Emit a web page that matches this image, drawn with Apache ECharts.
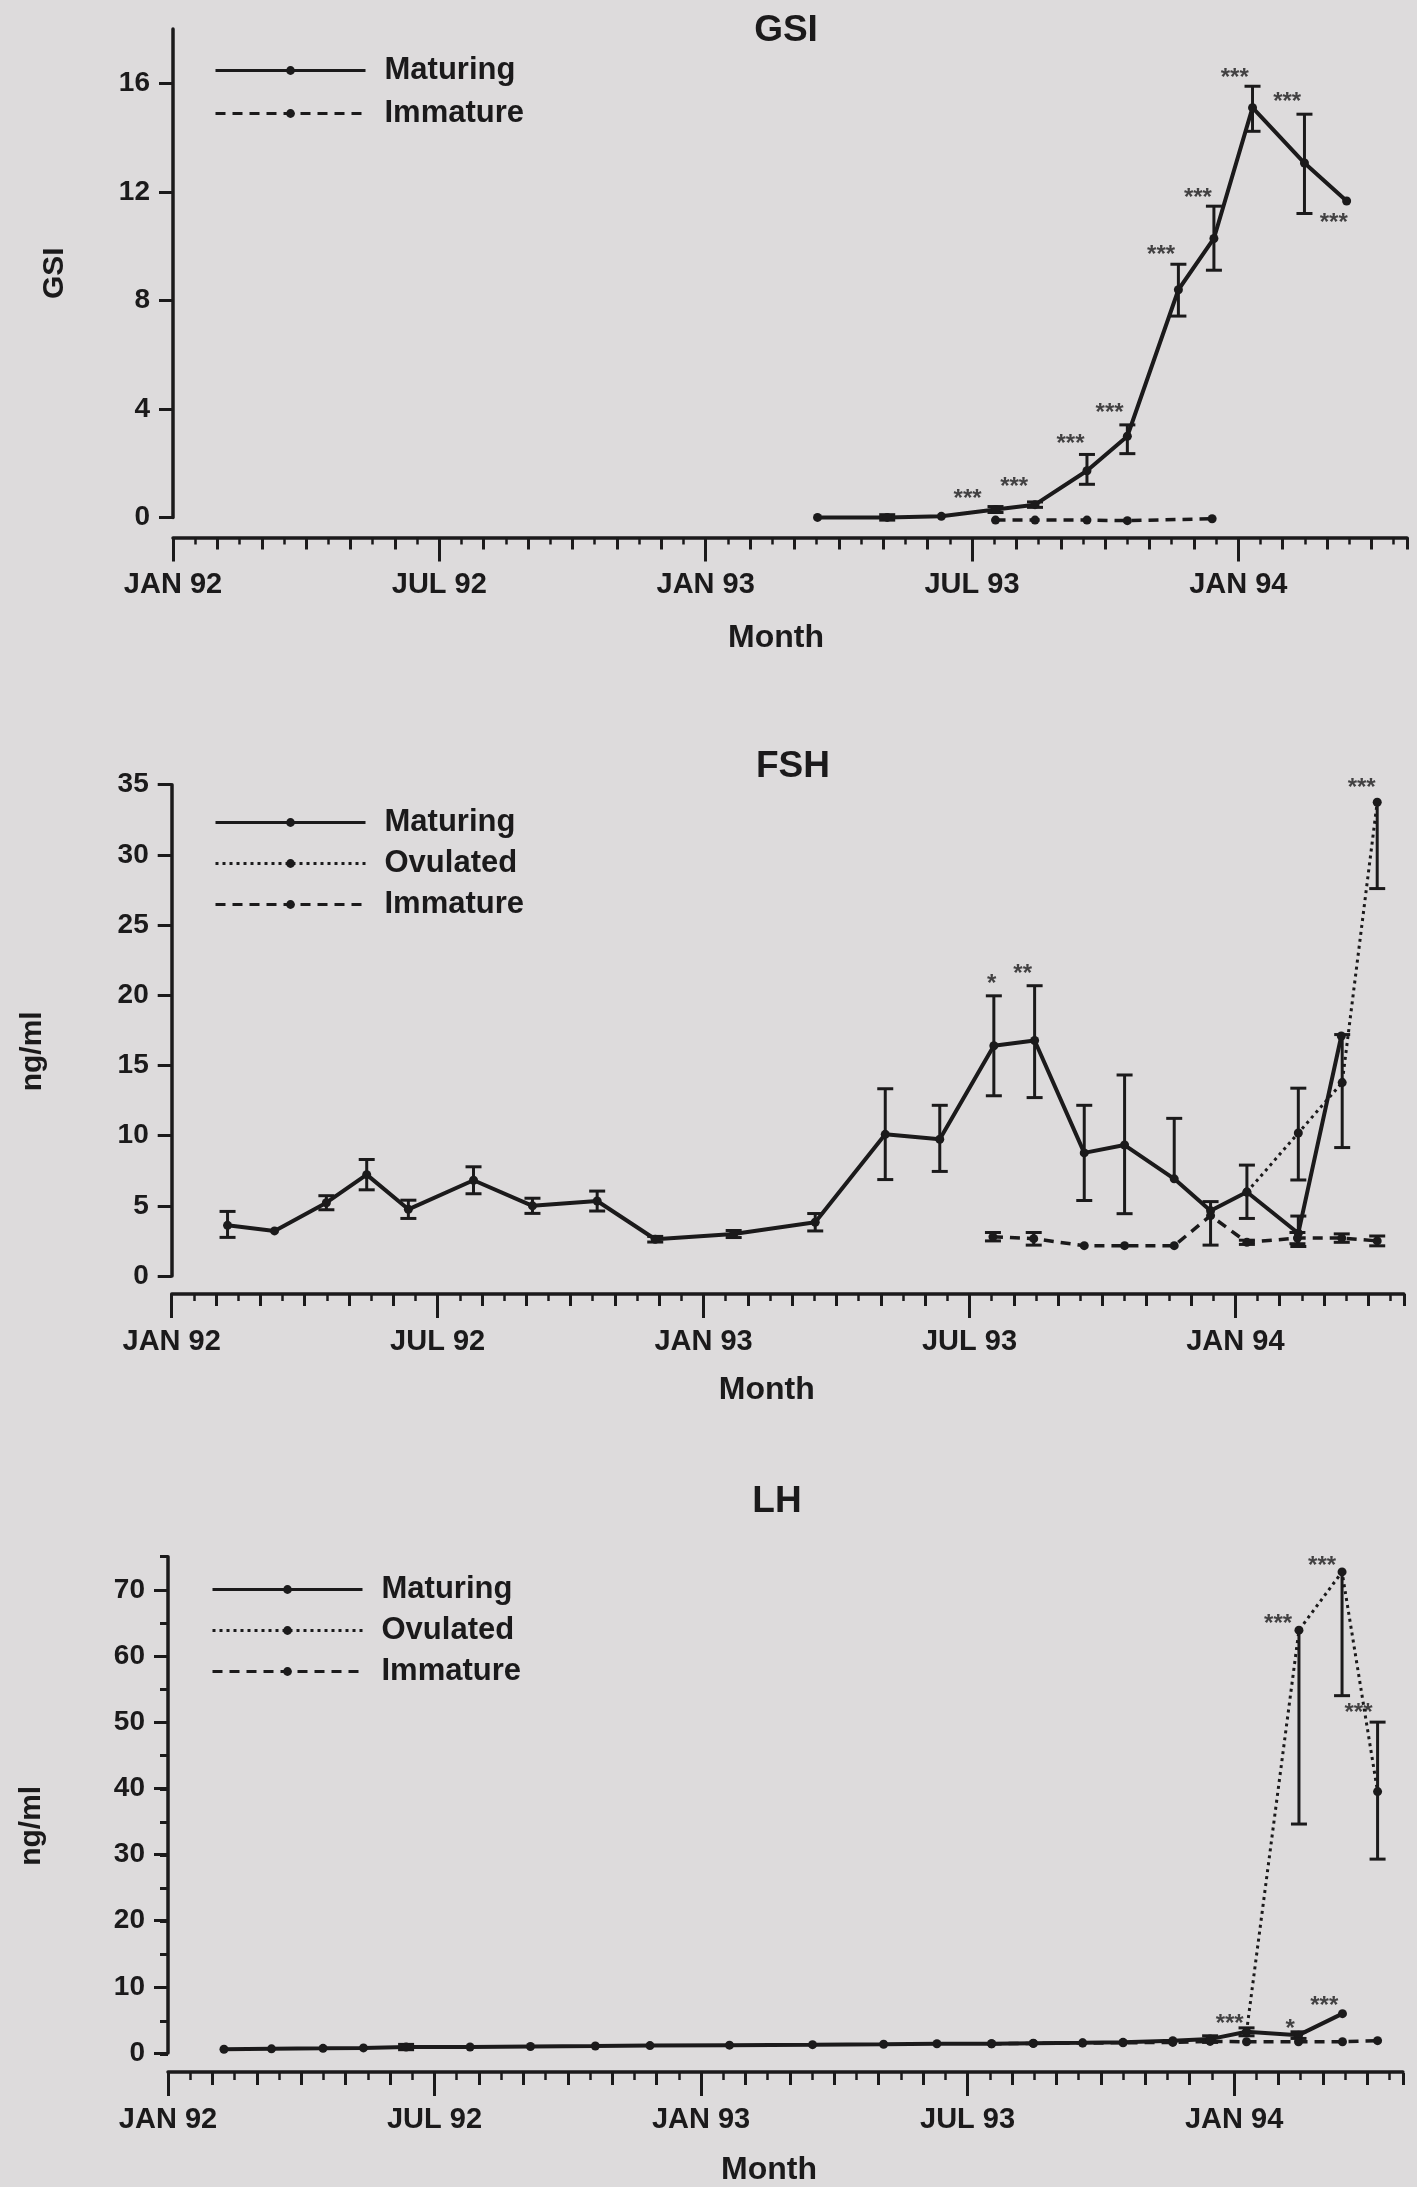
<!DOCTYPE html>
<html><head><meta charset="utf-8">
<script src="https://cdn.jsdelivr.net/npm/echarts@6/dist/echarts.min.js"></script>
<style>html,body{margin:0;padding:0;background:#dddbdc}#c{width:1417px;height:2187px}</style>
</head><body><div id="c"></div><script>
// ---------- DATA (months counted from JAN 92 = 0) ----------
const xTickMonths = [0, 6, 12, 18, 24];
const xTickLabels = ['JAN 92', 'JUL 92', 'JAN 93', 'JUL 93', 'JAN 94'];
const seriesNames = ['Maturing', 'Ovulated', 'Immature'];

// GSI
const gsiMatMonths = [14.52, 16.09, 17.31, 18.53, 19.42, 20.59, 21.5, 22.65, 23.45, 24.32, 25.49, 26.44];
const gsiMatValues = [0.0, 0.0, 0.04, 0.29, 0.47, 1.72, 2.99, 8.39, 10.28, 15.1, 13.06, 11.66];
const gsiMatLow    = [null, -0.1, null, 0.18, 0.37, 1.22, 2.35, 7.42, 9.11, 14.23, 11.2, null];
const gsiMatHigh   = [null, 0.1, null, 0.4, 0.57, 2.32, 3.41, 9.33, 11.47, 15.89, 14.86, null];
const gsiImmMonths = [18.53, 19.42, 20.59, 21.5, 23.41];
const gsiImmValues = [-0.1, -0.1, -0.1, -0.12, -0.05];
const gsiStarMonths = [17.9, 18.95, 20.22, 21.1, 22.26, 23.09, 23.92, 25.1, 26.15];
const gsiStarValues = [0.9, 1.33, 2.9, 4.04, 9.89, 11.97, 16.4, 15.5, 11.05];
const gsiStarText   = ['***', '***', '***', '***', '***', '***', '***', '***', '***'];

// FSH
const fshMatMonths = [1.26, 2.32, 3.49, 4.40, 5.34, 6.81, 8.14, 9.60, 10.91, 12.68, 14.52, 16.10, 17.33, 18.55, 19.47, 20.59, 21.50, 22.62, 23.44, 24.26, 25.42, 26.39];
const fshMatValues = [3.61, 3.21, 5.22, 7.22, 4.75, 6.82, 5.0, 5.34, 2.62, 2.99, 3.83, 10.09, 9.74, 16.40, 16.78, 8.77, 9.33, 6.92, 4.65, 5.98, 3.05, 17.1];
const fshMatLow    = [2.75, null, 4.72, 6.14, 4.1, 5.86, 4.46, 4.63, 2.42, 2.74, 3.21, 6.87, 7.45, 12.84, 12.71, 5.38, 4.44, null, null, 4.1, 2.1, null];
const fshMatHigh   = [4.6, null, 5.72, 8.3, 5.4, 7.78, 5.54, 6.05, 2.82, 3.24, 4.45, 13.34, 12.16, 19.96, 20.68, 12.16, 14.32, 11.23, null, 7.9, 4.27, null];
const fshOvuMonths = [24.26, 25.42, 26.41, 27.2];
const fshOvuValues = [5.98, 10.19, 13.78, 33.75];
const fshOvuLow    = [null, 6.84, 9.15, 27.6];
const fshOvuHigh   = [null, 13.38, 17.2, null];
const fshImmMonths = [18.53, 19.45, 20.59, 21.50, 22.62, 23.44, 24.26, 25.40, 26.40, 27.2];
const fshImmValues = [2.79, 2.66, 2.16, 2.16, 2.16, 4.3, 2.4, 2.7, 2.7, 2.5];
const fshImmLow    = [2.5, 2.2, null, null, null, 2.2, 2.25, 2.3, 2.4, 2.15];
const fshImmHigh   = [3.1, 3.1, null, null, null, 5.3, 2.55, 3.1, 3.0, 2.85];
const fshStarMonths = [18.5, 19.2, 26.85];
const fshStarValues = [21.2, 21.9, 35.2];
const fshStarText   = ['*', '**', '***'];

// LH
const lhMatMonths = [1.26, 2.33, 3.49, 4.40, 5.36, 6.80, 8.16, 9.62, 10.85, 12.64, 14.51, 16.11, 17.31, 18.54, 19.48, 20.59, 21.5, 22.62, 23.46, 24.28, 25.45, 26.44];
const lhMatValues = [0.56, 0.63, 0.7, 0.77, 0.91, 0.91, 0.98, 1.05, 1.12, 1.19, 1.26, 1.33, 1.4, 1.4, 1.47, 1.54, 1.61, 1.86, 2.1, 3.2, 2.7, 5.95];
const lhMatLow    = [null, null, null, null, 0.5, null, null, null, null, null, null, null, null, null, null, null, null, null, 1.6, 2.6, 2.2, null];
const lhMatHigh   = [null, null, null, null, 1.3, null, null, null, null, null, null, null, null, null, null, null, null, null, 2.6, 3.8, 3.2, null];
const lhOvuMonths = [24.28, 25.46, 26.43, 27.23];
const lhOvuValues = [3.2, 63.9, 72.7, 39.5];
const lhOvuLow    = [null, 34.6, 54.0, 29.3];
const lhOvuHigh   = [null, null, null, 50.0];
const lhImmMonths = [18.54, 19.48, 20.59, 21.5, 22.62, 23.46, 24.28, 25.45, 26.44, 27.23];
const lhImmValues = [1.4, 1.45, 1.5, 1.55, 1.6, 1.75, 1.7, 1.7, 1.7, 1.86];
const lhStarMonths = [24.99, 25.98, 26.8, 23.9, 25.26, 26.03];
const lhStarValues = [65.7, 74.5, 52.3, 5.3, 4.5, 8.0];
const lhStarText   = ['***', '***', '***', '***', '*', '***'];

// ---------- LAYOUT / STYLE ----------
const INK = '#1b1a1b';
const FONT = '"Liberation Sans", Arial, Helvetica, sans-serif';
const XMAX = 27.8;
const panels = [
  { left: 173, top: 29, width: 1234, height: 488.4, ymax: 18, yint: 4, yTicks: [0, 4, 8, 12, 16], minorY: 0,
    offset: 20, yName: 'GSI', nameGap: 103, namePad: 0, monthPad: 28, monthGap: 85, title: 'GSI', titleX: 781, titleTop: 7,
    legend: ['Maturing', 'Immature'], legendLeft: 214, legendTop: 55, legendGap: 12 },
  { left: 171.7, top: 784.7, width: 1232.1, height: 491.3, ymax: 35, yint: 5, yTicks: [0, 5, 10, 15, 20, 25, 30, 35], minorY: 0,
    offset: 18, yName: 'ng/ml', nameGap: 124, namePad: 42, monthPad: 42, monthGap: 80, title: 'FSH', titleX: 788, titleTop: 743,
    legend: ['Maturing', 'Ovulated', 'Immature'], legendLeft: 214, legendTop: 807, legendGap: 10 },
  { left: 168, top: 1556.7, width: 1234.9, height: 497.3, ymax: 75, yint: 10, yTicks: [0, 10, 20, 30, 40, 50, 60, 70], minorY: 5,
    offset: 19, yName: 'ng/ml', nameGap: 121, namePad: 42, monthPad: 33, monthGap: 82, title: 'LH', titleX: 772, titleTop: 1478,
    legend: ['Maturing', 'Ovulated', 'Immature'], legendLeft: 211, legendTop: 1574, legendGap: 10 }
];
const lineStyles = {
  Maturing: { width: 4, type: 'solid' },
  Ovulated: { width: 3, type: [3, 4] },
  Immature: { width: 3.5, type: [10, 7] }
};

const grids = [], xAxes = [], yAxes = [], series = [];
panels.forEach((p, i) => {
  const g = { left: p.left, top: p.top, width: p.width, height: p.height };
  grids.push(Object.assign({}, g), Object.assign({}, g));
  xAxes.push({
    gridIndex: 2 * i, type: 'value', min: 0, max: XMAX, interval: 6, offset: p.offset,
    axisLine: { onZero: false, lineStyle: { color: INK, width: 3.5 } },
    axisTick: { length: 24, customValues: xTickMonths, lineStyle: { color: INK, width: 3 } },
    axisLabel: { customValues: xTickMonths, formatter: v => xTickLabels[xTickMonths.indexOf(v)] || '',
      fontSize: 29, fontWeight: 'bold', color: INK, fontFamily: FONT, margin: 33 },
    splitLine: { show: false },
    name: 'Month', nameLocation: 'middle', nameGap: p.monthGap,
    nameTextStyle: { fontSize: 32, fontWeight: 'bold', color: INK, fontFamily: FONT, padding: [0, p.monthPad, 0, 0] }
  });
  xAxes.push({
    gridIndex: 2 * i + 1, type: 'value', min: 0, max: XMAX, interval: 1, offset: p.offset,
    axisLine: { show: false, onZero: false },
    axisTick: { length: 12, lineStyle: { color: INK, width: 3 } },
    minorTick: { show: true, splitNumber: 2, length: 7, lineStyle: { color: INK, width: 2.5 } },
    axisLabel: { show: false }, splitLine: { show: false }
  });
  yAxes.push({
    gridIndex: 2 * i, type: 'value', min: 0, max: p.ymax, interval: p.yint,
    axisLine: { show: true, onZero: false, lineStyle: { color: INK, width: 3.5 } },
    axisTick: { show: true, length: 14, customValues: p.yTicks, lineStyle: { color: INK, width: 3 } },
    axisLabel: { customValues: p.yTicks, fontSize: 28, fontWeight: 'bold', color: INK, fontFamily: FONT, margin: 23 },
    splitLine: { show: false },
    name: p.yName, nameLocation: 'middle', nameGap: p.nameGap,
    nameTextStyle: { fontSize: 30, fontWeight: 'bold', color: INK, fontFamily: FONT, padding: [0, p.namePad, 0, 0] }
  });
  yAxes.push(p.minorY ? {
    gridIndex: 2 * i + 1, type: 'value', min: 0, max: p.ymax, interval: p.minorY,
    axisLine: { show: false, onZero: false },
    axisTick: { show: true, length: 8, lineStyle: { color: INK, width: 3 } },
    axisLabel: { show: false }, splitLine: { show: false }
  } : { gridIndex: 2 * i + 1, type: 'value', min: 0, max: p.ymax, show: false });
});

function errRender(params, api) {
  const x = api.value(0), v = api.value(1), lo = api.value(2), hi = api.value(3);
  const a = api.coord([x, lo]), b = api.coord([x, hi]);
  const cap = 8, st = { stroke: INK, lineWidth: 3 };
  const ch = [{ type: 'line', shape: { x1: a[0], y1: a[1], x2: b[0], y2: b[1] }, style: st }];
  if (lo < v) ch.push({ type: 'line', shape: { x1: a[0] - cap, y1: a[1], x2: a[0] + cap, y2: a[1] }, style: st });
  if (hi > v) ch.push({ type: 'line', shape: { x1: b[0] - cap, y1: b[1], x2: b[0] + cap, y2: b[1] }, style: st });
  return { type: 'group', children: ch };
}
function addLine(pi, name, months, values, lows, highs) {
  const ls = lineStyles[name];
  if (lows) {
    const d = [];
    months.forEach((m, k) => {
      if (lows[k] != null || highs[k] != null)
        d.push([m, values[k], lows[k] == null ? values[k] : lows[k], highs[k] == null ? values[k] : highs[k]]);
    });
    series.push({ type: 'custom', name: name + ' SE', xAxisIndex: 2 * pi, yAxisIndex: 2 * pi, renderItem: errRender,
      data: d, z: 2, silent: true, clip: false, encode: { x: 0, y: [1, 2, 3] } });
  }
  series.push({ type: 'line', name, xAxisIndex: 2 * pi, yAxisIndex: 2 * pi,
    data: months.map((m, k) => [m, values[k]]), symbol: 'circle', symbolSize: 9, showAllSymbol: true, clip: false,
    lineStyle: { color: INK, width: ls.width, type: ls.type }, itemStyle: { color: INK }, z: 3, silent: true });
}
function addStars(pi, months, values, texts) {
  series.push({ type: 'scatter', name: 'sig', xAxisIndex: 2 * pi, yAxisIndex: 2 * pi, symbolSize: 0, silent: true, clip: false,
    data: months.map((m, k) => [m, values[k], texts[k]]),
    label: { show: true, position: 'inside', formatter: p => p.data[2], fontSize: 24, fontWeight: 'bold', color: INK, fontFamily: FONT, offset: [0, 6] },
    z: 4 });
}
addLine(0, 'Maturing', gsiMatMonths, gsiMatValues, gsiMatLow, gsiMatHigh);
addLine(0, 'Immature', gsiImmMonths, gsiImmValues, null, null);
addStars(0, gsiStarMonths, gsiStarValues, gsiStarText);
addLine(1, 'Maturing', fshMatMonths, fshMatValues, fshMatLow, fshMatHigh);
addLine(1, 'Ovulated', fshOvuMonths, fshOvuValues, fshOvuLow, fshOvuHigh);
addLine(1, 'Immature', fshImmMonths, fshImmValues, fshImmLow, fshImmHigh);
addStars(1, fshStarMonths, fshStarValues, fshStarText);
addLine(2, 'Maturing', lhMatMonths, lhMatValues, lhMatLow, lhMatHigh);
addLine(2, 'Ovulated', lhOvuMonths, lhOvuValues, lhOvuLow, lhOvuHigh);
addLine(2, 'Immature', lhImmMonths, lhImmValues, null, null);
addStars(2, lhStarMonths, lhStarValues, lhStarText);

const chart = echarts.init(document.getElementById('c'), null, { renderer: 'canvas' });
chart.setOption({
  backgroundColor: '#dddbdc',
  animation: false,
  textStyle: { fontFamily: FONT },
  title: panels.map(p => ({ text: p.title, left: p.titleX, top: p.titleTop, textAlign: 'center',
    textStyle: { fontSize: 37, fontWeight: 'bold', color: INK, fontFamily: FONT } })),
  legend: panels.map(p => ({ data: p.legend, orient: 'vertical', left: p.legendLeft, top: p.legendTop, padding: 0,
    itemWidth: 150, itemHeight: 11, itemGap: p.legendGap, selectedMode: false,
    lineStyle: { width: 3 },
    textStyle: { fontSize: 31, fontWeight: 'bold', color: INK, fontFamily: FONT, lineHeight: 30, padding: [0, 0, 0, 14] } })),
  grid: grids, xAxis: xAxes, yAxis: yAxes, series
});
</script></body></html>
